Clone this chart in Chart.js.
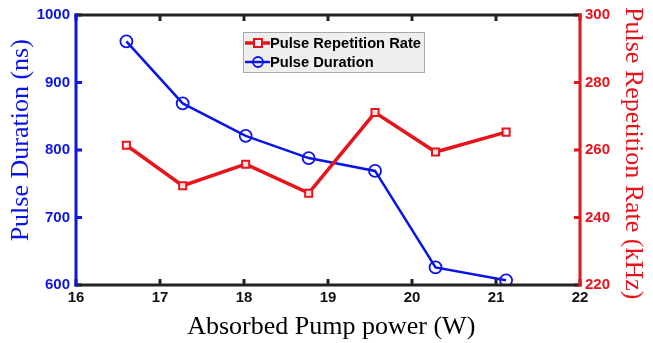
<!DOCTYPE html>
<html>
<head>
<meta charset="utf-8">
<script src="https://cdn.jsdelivr.net/npm/chart.js@4.4.1/dist/chart.umd.min.js"></script>
<style>
  html, body { margin: 0; padding: 0; background: #fff; }
  #wrap { width: 653px; height: 343px; }
</style>
</head>
<body>
<div id="wrap"><canvas id="chart"></canvas></div>
<script>
// absorbed pump power (W)
const pumpPower = [16.6, 17.27, 18.02, 18.77, 19.56, 20.28, 21.12];
// pulse repetition rate (kHz), right axis
const repRate = [261.4, 249.4, 255.8, 247.2, 271.1, 259.4, 265.3];
// pulse duration (ns), left axis
const duration = [961, 869, 821, 788, 769, 626, 607];

const RED = '#e8141c';
const BLUE = '#0a14e6';

const toPoints = (xs, ys) => xs.map((x, i) => ({ x: x, y: ys[i] }));
const plain = v => String(v);

// frame + inward ticks like the original figure
const framePlugin = {
  id: 'frame',
  afterDraw(chart) {
    const { ctx, chartArea: a, scales } = chart;
    ctx.save();
    ctx.lineWidth = 3;
    ctx.lineCap = 'butt';
    const line = (x1, y1, x2, y2, c) => {
      ctx.strokeStyle = c;
      ctx.beginPath(); ctx.moveTo(x1, y1); ctx.lineTo(x2, y2); ctx.stroke();
    };
    scales.x.ticks.forEach(t => {
      const px = scales.x.getPixelForValue(t.value);
      line(px, a.top, px, a.top + 6, '#222');
      line(px, a.bottom, px, a.bottom - 6, '#222');
    });
    scales.y.ticks.forEach(t => {
      const py = scales.y.getPixelForValue(t.value);
      line(a.left, py, a.left + 6, py, BLUE);
    });
    scales.y1.ticks.forEach(t => {
      const py = scales.y1.getPixelForValue(t.value);
      line(a.right, py, a.right - 6, py, RED);
    });
    line(a.left - 1.5, a.top, a.right + 1.5, a.top, '#222');
    line(a.left - 1.5, a.bottom, a.right + 1.5, a.bottom, '#222');
    line(a.left, a.top - 1.5, a.left, a.bottom + 1.5, BLUE);
    line(a.right, a.top - 1.5, a.right, a.bottom + 1.5, RED);
    ctx.restore();
  }
};

// boxed legend inside the plot
const boxLegend = {
  id: 'boxLegend',
  afterDraw(chart) {
    const { ctx } = chart;
    const x0 = 243, y0 = 32, w = 182, h = 41;
    ctx.save();
    ctx.fillStyle = '#efefef';
    ctx.fillRect(x0, y0, w, h);
    ctx.strokeStyle = '#a8a8a8';
    ctx.lineWidth = 1;
    ctx.strokeRect(x0 + 0.5, y0 + 0.5, w - 1, h - 1);
    ctx.font = 'bold 14.7px "Liberation Sans", Arial, sans-serif';
    ctx.textBaseline = 'middle';
    chart.data.datasets.forEach((ds, i) => {
      const cy = y0 + 11 + i * 19;
      ctx.strokeStyle = ds.borderColor;
      ctx.lineWidth = ds.borderWidth;
      ctx.beginPath(); ctx.moveTo(x0 + 2, cy); ctx.lineTo(x0 + 27, cy); ctx.stroke();
      ctx.lineWidth = ds.pointBorderWidth;
      if (ds.pointStyle === 'rect') {
        ctx.fillStyle = '#efefef';
        ctx.fillRect(x0 + 11, cy - 4, 8, 8);
        ctx.strokeRect(x0 + 11, cy - 4, 8, 8);
      } else {
        ctx.beginPath(); ctx.arc(x0 + 15, cy, 5, 0, Math.PI * 2); ctx.stroke();
      }
      ctx.fillStyle = '#000';
      ctx.fillText(ds.label, x0 + 27, cy + 1);
    });
    ctx.restore();
  }
};

const tickFont = { family: '"Liberation Sans", Arial, sans-serif', size: 15, weight: 'bold' };
const titleFont = { family: '"Liberation Serif", "Times New Roman", serif', size: 26 };

new Chart(document.getElementById('chart'), {
  type: 'line',
  data: {
    datasets: [
      {
        label: 'Pulse Repetition Rate',
        data: toPoints(pumpPower, repRate),
        yAxisID: 'y1',
        borderColor: RED,
        borderWidth: 3.5,
        pointStyle: 'rect',
        pointRadius: 5,
        pointBorderWidth: 2,
        pointBackgroundColor: 'rgba(255,255,255,0.85)',
        pointBorderColor: RED,
        tension: 0
      },
      {
        label: 'Pulse Duration',
        data: toPoints(pumpPower, duration),
        yAxisID: 'y',
        borderColor: BLUE,
        borderWidth: 2.5,
        pointStyle: 'circle',
        pointRadius: 6,
        pointBorderWidth: 1.8,
        pointBackgroundColor: 'rgba(0,0,0,0)',
        pointBorderColor: BLUE,
        tension: 0
      }
    ]
  },
  options: {
    responsive: true,
    maintainAspectRatio: false,
    animation: false,
    layout: { padding: { top: 15, right: 0, left: 0, bottom: 0 } },
    plugins: { legend: { display: false }, tooltip: { enabled: false } },
    scales: {
      x: {
        type: 'linear',
        min: 16, max: 22,
        grid: { display: false, drawTicks: false },
        border: { display: false },
        ticks: { stepSize: 1, color: '#111', font: tickFont, padding: 4, maxRotation: 0, callback: plain },
        title: { display: true, text: ' Absorbed Pump power (W)', color: '#000', font: titleFont, padding: { top: 0, bottom: 0 } },
        afterFit(s) { s.height = 58; }
      },
      y: {
        position: 'left',
        min: 600, max: 1000,
        grid: { display: false, drawTicks: false },
        border: { display: false },
        ticks: { stepSize: 100, color: BLUE, font: tickFont, padding: 6, callback: plain },
        title: { display: true, text: '   Pulse Duration (ns)', color: BLUE, font: titleFont, padding: { top: 6, bottom: 0 } },
        afterFit(s) { s.width = 76; }
      },
      y1: {
        position: 'right',
        min: 220, max: 300,
        grid: { display: false, drawTicks: false },
        border: { display: false },
        ticks: { stepSize: 20, color: RED, font: tickFont, padding: 5, callback: plain },
        title: { display: true, text: ' Pulse Repetition Rate (kHz)', color: RED, font: titleFont, padding: { top: 5, bottom: 0 } },
        afterFit(s) { s.width = 73; }
      }
    }
  },
  plugins: [framePlugin, boxLegend]
});
</script>
</body>
</html>
